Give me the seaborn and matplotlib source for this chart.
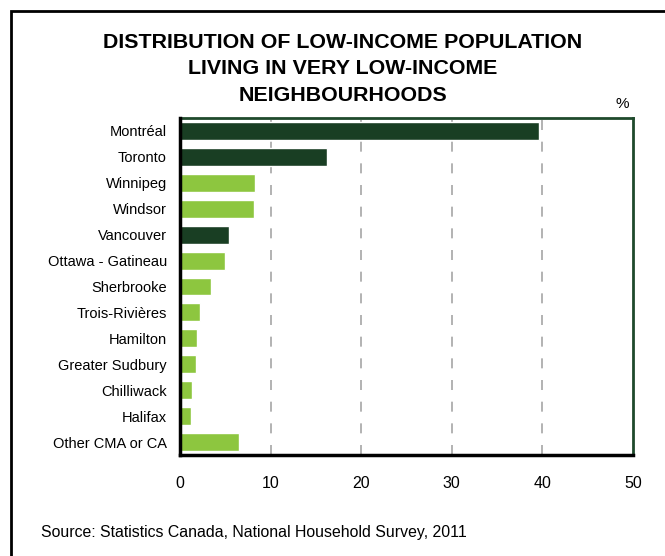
import matplotlib
matplotlib.use("Agg")
import matplotlib.pyplot as plt
import seaborn as sns
import pandas as pd
from matplotlib.patches import Rectangle

cities = ["Montréal", "Toronto", "Winnipeg", "Windsor", "Vancouver",
          "Ottawa - Gatineau", "Sherbrooke", "Trois-Rivières", "Hamilton",
          "Greater Sudbury", "Chilliwack", "Halifax", "Other CMA or CA"]
shares = [39.6, 16.2, 8.3, 8.2, 5.4, 5.0, 3.4, 2.2, 1.9, 1.8, 1.3, 1.2, 6.5]
largest_cma = [True, True, False, False, True, False, False, False, False,
               False, False, False, False]
x_ticks = [0, 10, 20, 30, 40, 50]
title_lines = ["DISTRIBUTION OF LOW-INCOME POPULATION",
               "LIVING IN VERY LOW-INCOME",
               "NEIGHBOURHOODS"]

DARK = "#193e23"
LIGHT = "#8dc63f"

sns.set_style("white")
plt.rcParams["font.family"] = ["Liberation Sans", "DejaVu Sans"]
plt.rcParams["text.color"] = "black"
plt.rcParams["xtick.color"] = "black"
plt.rcParams["ytick.color"] = "black"

df = pd.DataFrame({"city": cities, "share": shares,
                   "group": ["big" if b else "other" for b in largest_cma]})

fig = plt.figure(figsize=(6.65, 5.56), dpi=100)
ax = fig.add_axes([180 / 665, 1 - 455 / 556, (633 - 180) / 665, (455 - 118) / 556])

sns.barplot(data=df, x="share", y="city", hue="group", order=cities,
            palette={"big": DARK, "other": LIGHT}, dodge=False,
            width=0.69, legend=False, ax=ax, saturation=1)

ax.set_xlim(0, 50)
ax.set_ylim(len(cities) - 0.5, -0.5)
ax.set_xticks(x_ticks)
ax.set_xticklabels([str(t) for t in x_ticks], fontsize=11.5)
ax.tick_params(axis="x", length=0, pad=15, colors="black")
ax.tick_params(axis="y", length=0, pad=9.5, labelsize=10.5, colors="black")
ax.set_xlabel("")
ax.set_ylabel("")

for t in x_ticks[1:-1]:
    ax.axvline(t, color="#a6a6a6", lw=1.2, ls=(0, (6, 7)), zorder=0)

for side in ["top", "right"]:
    ax.spines[side].set_color("#1f4a2c")
    ax.spines[side].set_linewidth(2)
for side in ["left", "bottom"]:
    ax.spines[side].set_color("black")
    ax.spines[side].set_linewidth(2.5)
    ax.spines[side].set_zorder(5)

for i, line in enumerate(title_lines):
    fig.text(343 / 665, 1 - (42 + 26.7 * i) / 556, line,
             ha="center", va="center", fontsize=15.4, fontweight="bold")
fig.text(622 / 665, 1 - 104 / 556, "%", ha="center", va="center", fontsize=11)
fig.text(41 / 665, 1 - 533 / 556,
         "Source: Statistics Canada, National Household Survey, 2011",
         ha="left", va="center", fontsize=11.4)

# outer frame around the panel
fig.patches.append(Rectangle((11 / 665, -0.05), 1.0, 1 - 11 / 556 + 0.05,
                             transform=fig.transFigure, fill=False,
                             edgecolor="black", lw=2))

fig.savefig("out.png", dpi=100)
